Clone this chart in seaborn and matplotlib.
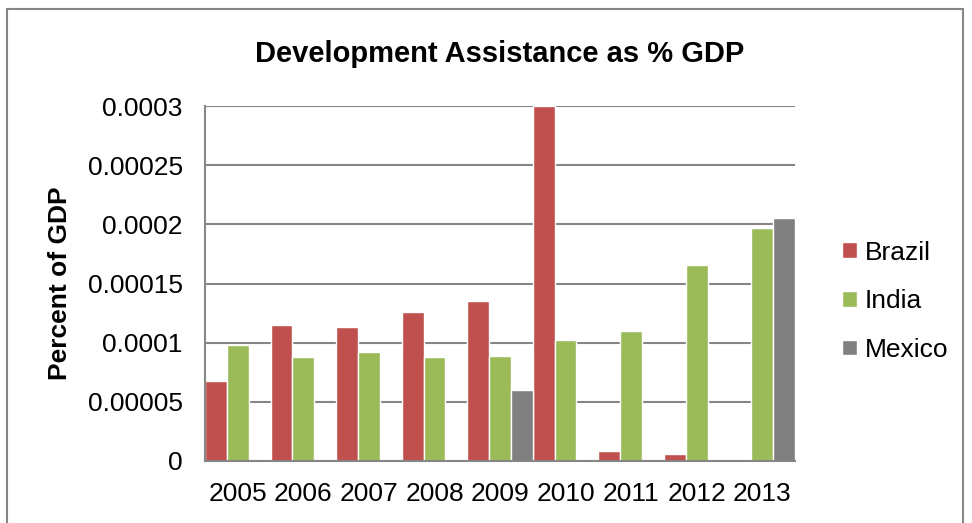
import pandas as pd
import seaborn as sns
import matplotlib.pyplot as plt
from matplotlib.patches import Rectangle
from matplotlib.ticker import FuncFormatter, MultipleLocator

years = ['2005', '2006', '2007', '2008', '2009', '2010', '2011', '2012', '2013']
brazil = [0.0000679, 0.000115, 0.000113, 0.0001256, 0.0001355, 0.0003, 0.0000082, 0.0000059, 0.0000008]
india = [0.000098, 0.0000879, 0.0000921, 0.0000879, 0.0000885, 0.000102, 0.00011, 0.000166, 0.0001966]
mexico = [None, None, None, None, 0.0000603, None, None, None, 0.0002054]
countries = ['Brazil', 'India', 'Mexico']
colors = ['#C0504D', '#9BBB59', '#808080']

df = pd.DataFrame({'Year': years, 'Brazil': brazil, 'India': india, 'Mexico': mexico})
df = df.melt(id_vars='Year', value_vars=countries, var_name='Country', value_name='Value')
df['Value'] = df['Value'].astype(float)

sns.set_theme(style='white')
plt.rcParams['font.family'] = ['Liberation Sans', 'DejaVu Sans']
plt.rcParams['text.color'] = 'black'
plt.rcParams['axes.labelcolor'] = 'black'

fig = plt.figure(figsize=(9.72, 5.23), dpi=100)
ax = fig.add_axes([205 / 972, 1 - 461 / 523, 590 / 972, 355 / 523])

sns.barplot(data=df, x='Year', y='Value', hue='Country', order=years, hue_order=countries,
            palette=colors, width=1.0, gap=0, saturation=1, ax=ax, zorder=2)

ax.set_ylim(0, 0.0003)
ax.set_xlim(-0.5, len(years) - 0.5)
ax.yaxis.set_major_locator(MultipleLocator(0.00005))


def fmt(v, pos):
    if abs(v) < 1e-12:
        return '0'
    return f'{v:.5f}'.rstrip('0').rstrip('.')


ax.yaxis.set_major_formatter(FuncFormatter(fmt))
ax.yaxis.grid(True, color='#868686', linewidth=1.5, zorder=0)
ax.set_axisbelow(True)
for side in ['top', 'right']:
    ax.spines[side].set_visible(False)
for side in ['left', 'bottom']:
    ax.spines[side].set_color('#868686')
    ax.spines[side].set_linewidth(1.5)

ax.tick_params(axis='both', length=0, labelsize=19, colors='black')
ax.tick_params(axis='y', pad=16)
ax.tick_params(axis='x', pad=15)
ax.set_xlabel('')
ax.set_ylabel('Percent of GDP', fontsize=19, fontweight='bold', labelpad=11, color='black')
ax.set_title('Development Assistance as % GDP', fontsize=21, fontweight='bold', pad=32, color='black')

leg = ax.legend(loc='center left', bbox_to_anchor=(1.04, 0.45), frameon=False, fontsize=19,
                handlelength=0.55, handleheight=0.55, handletextpad=0.3, labelspacing=0.93)
for t in leg.get_texts():
    t.set_color('black')

fig.patches.append(Rectangle((7 / 972, -0.05), 956 / 972, 1.05 - 9 / 523,
                             transform=fig.transFigure, fill=False,
                             edgecolor='#868686', linewidth=1.5))

plt.savefig('out.png', dpi=100)
